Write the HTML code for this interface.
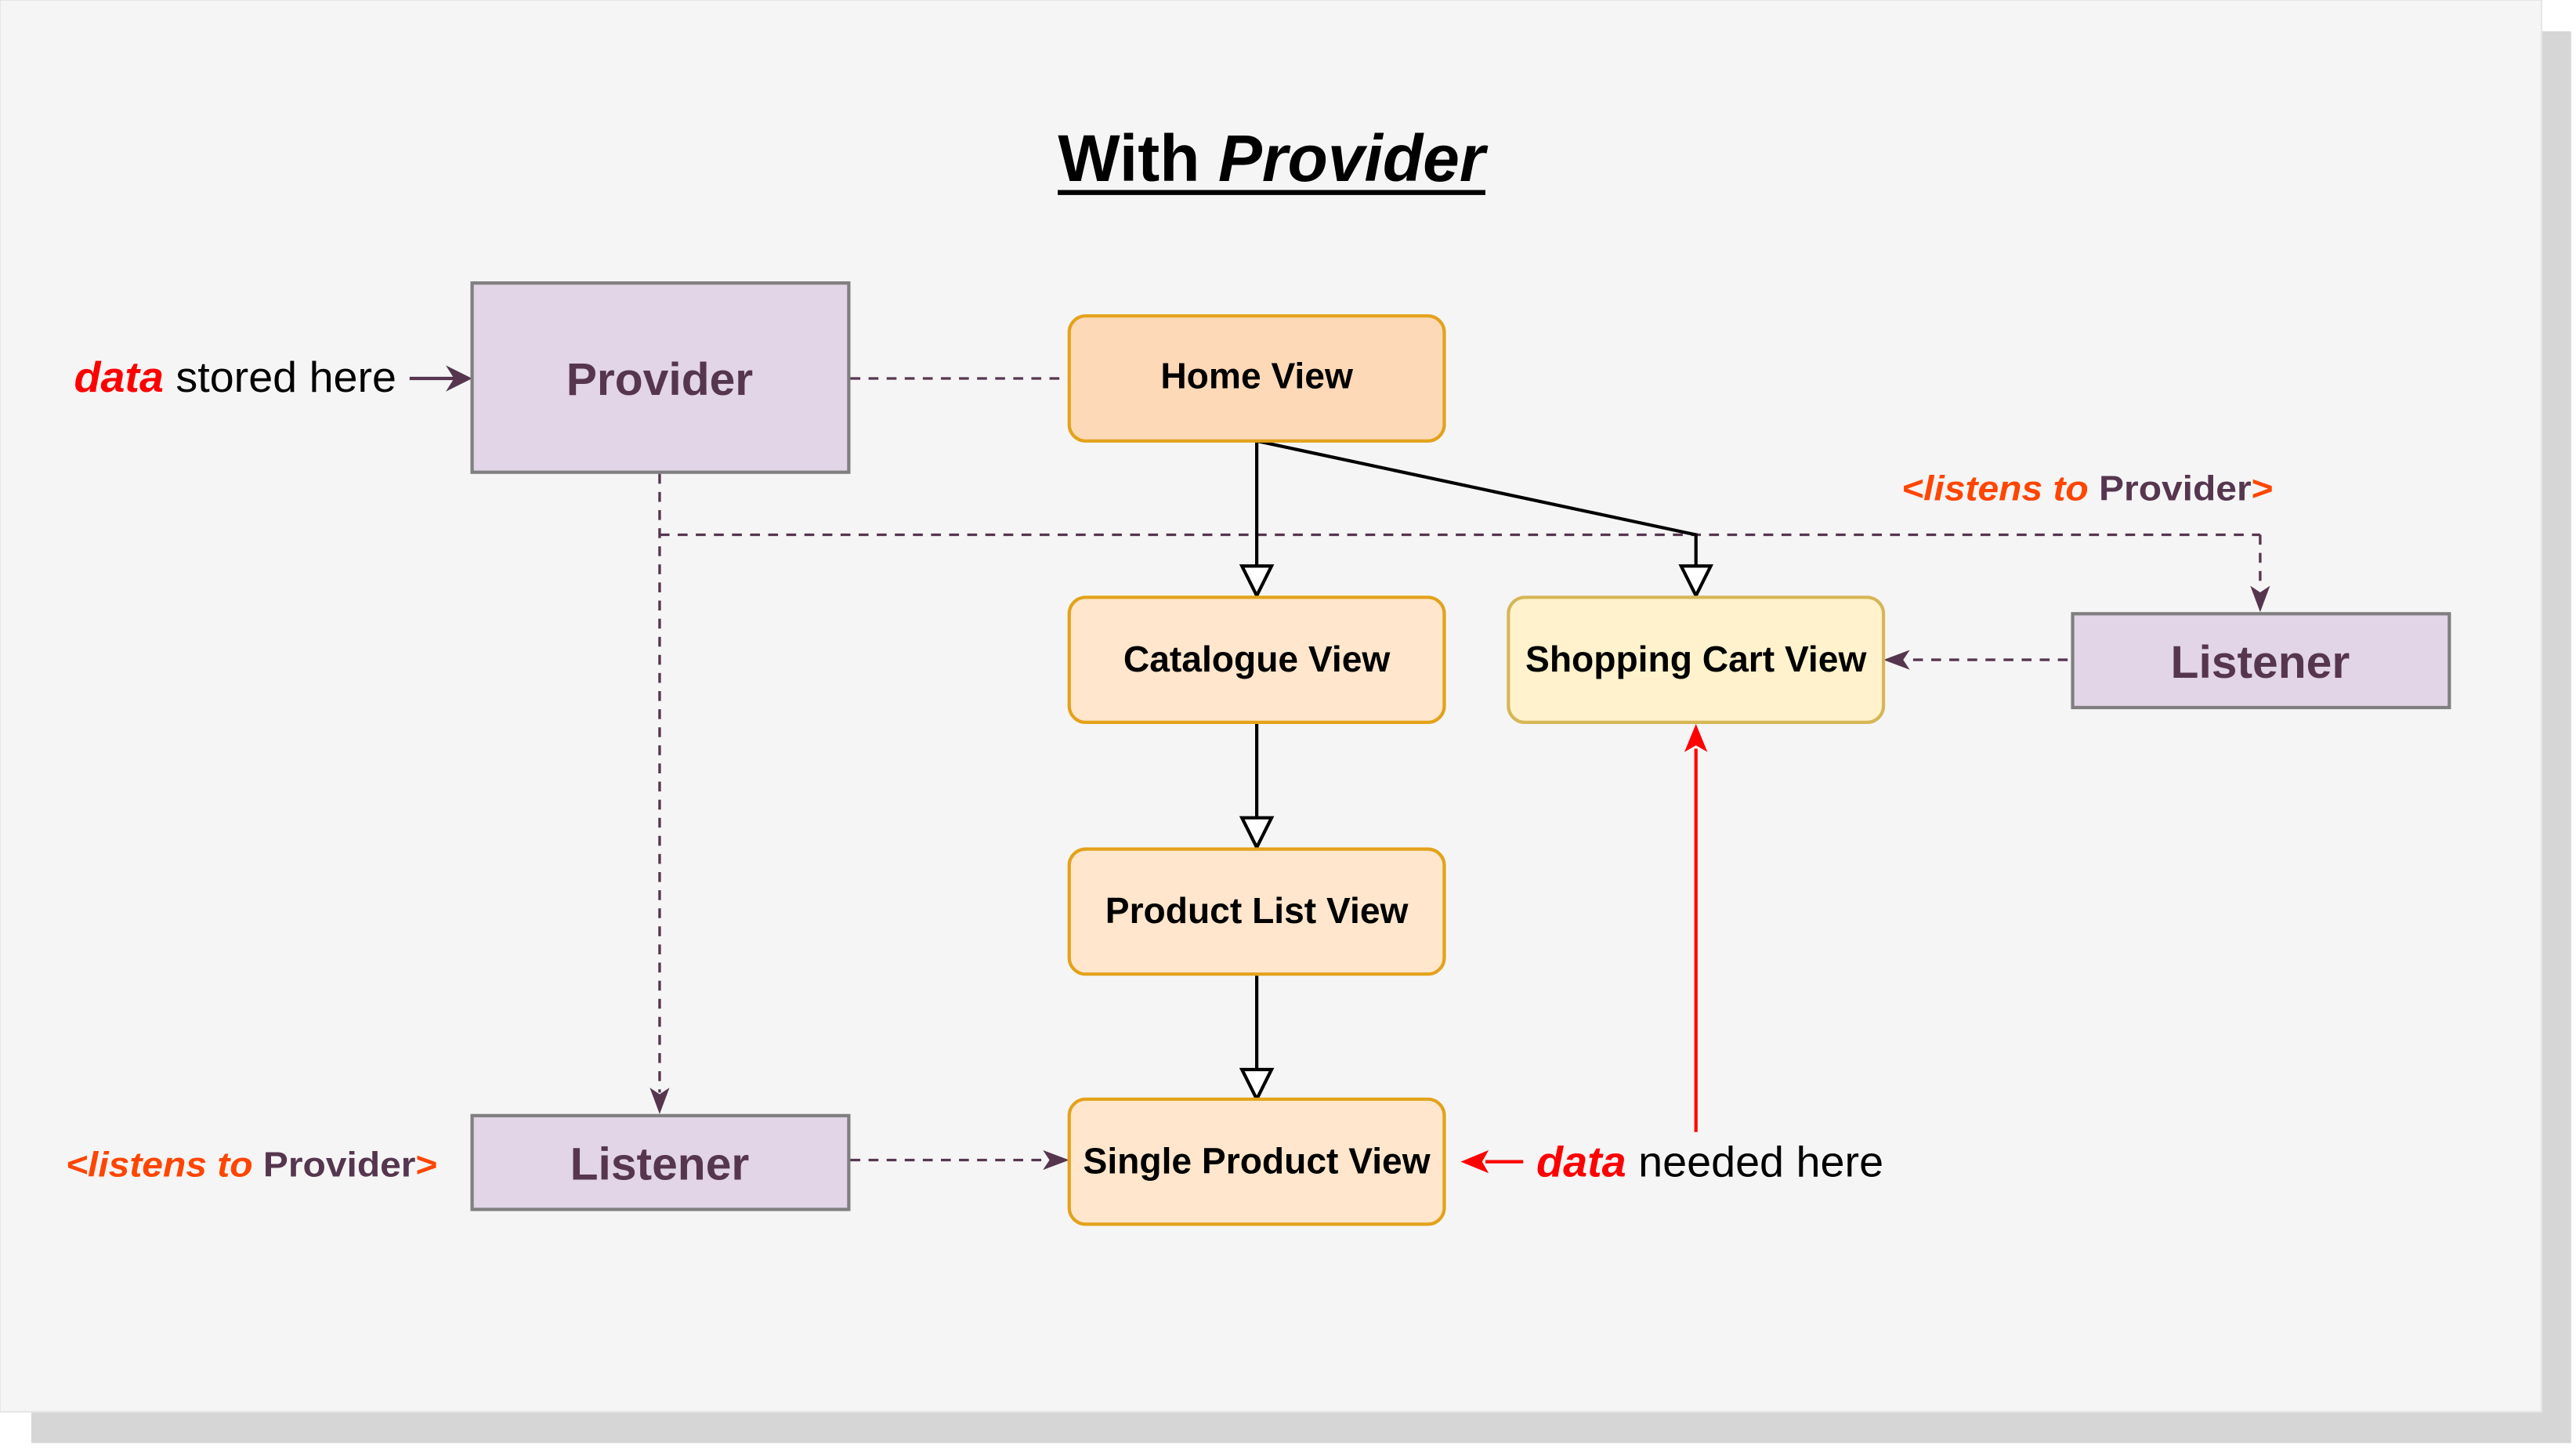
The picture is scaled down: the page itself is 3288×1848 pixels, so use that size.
<!DOCTYPE html>
<html><head><meta charset="utf-8"><style>
html,body{margin:0;padding:0;background:#fff;}
svg{display:block;}
text{font-family:"Liberation Sans",Arial,sans-serif;}
</style></head><body>
<svg width="3288" height="1848" viewBox="0 0 1566 880" preserveAspectRatio="none" xmlns="http://www.w3.org/2000/svg">
<rect x="19" y="19" width="1544" height="858" fill="#d6d6d6"/>
<rect x="0" y="0" width="1545" height="858" fill="#f5f5f5" stroke="#e6e6e6" stroke-width="1"/>

<!-- title -->
<text x="773" y="110" text-anchor="middle" font-size="40" font-weight="bold" fill="#000">With <tspan font-style="italic">Provider</tspan></text>
<line x1="643" y1="117" x2="903" y2="117" stroke="#000" stroke-width="3"/>

<!-- dashed connectors -->
<g stroke="#56364f" stroke-width="1.6" stroke-dasharray="6,5" fill="none">
<line x1="517" y1="230" x2="649" y2="230"/>
<line x1="401" y1="288" x2="401" y2="664"/>
<line x1="401" y1="325" x2="1374" y2="325"/>
<line x1="1374" y1="325" x2="1374" y2="358"/>
<line x1="1257" y1="401" x2="1158" y2="401"/>
<line x1="517" y1="705" x2="636" y2="705"/>
</g>
<g fill="#56364f">
<path d="M401,677 L395,661 L401,665 L407,661Z"/>
<path d="M1374,372 L1368,356 L1374,360 L1380,356Z"/>
<path d="M1145,401 L1161,395 L1157,401 L1161,407Z"/>
<path d="M650,705 L634,699 L638,705 L634,711Z"/>
<path d="M287,230 L271,222 L276,230 L271,238Z"/>
</g>
<line x1="249" y1="230" x2="277" y2="230" stroke="#56364f" stroke-width="2"/>

<!-- solid black connectors -->
<g stroke="#000" stroke-width="2" fill="none">
<line x1="764" y1="268" x2="764" y2="344"/>
<polyline points="764,268 1031,325 1031,344"/>
<line x1="764" y1="440" x2="764" y2="497"/>
<line x1="764" y1="593" x2="764" y2="650"/>
</g>
<g stroke="#000" stroke-width="2" fill="#fff">
<path d="M755,344 L773,344 L764,362Z"/>
<path d="M1022,344 L1040,344 L1031,362Z"/>
<path d="M755,497 L773,497 L764,515Z"/>
<path d="M755,650 L773,650 L764,668Z"/>
</g>

<!-- red arrows -->
<line x1="1031" y1="688" x2="1031" y2="455" stroke="#ff0000" stroke-width="2"/>
<path d="M1031,440 L1024,457 L1031,453 L1038,457Z" fill="#ff0000"/>
<line x1="926" y1="706" x2="903" y2="706" stroke="#ff0000" stroke-width="2"/>
<path d="M888,706 L905,699 L901,706 L905,713Z" fill="#ff0000"/>

<!-- purple boxes -->
<g fill="#e1d5e7" stroke="#7f7f7f" stroke-width="2">
<rect x="287" y="172" width="229" height="115"/>
<rect x="1260" y="373" width="229" height="57"/>
<rect x="287" y="678" width="229" height="57"/>
</g>
<g fill="#56364f" font-size="28" font-weight="bold" text-anchor="middle">
<text x="401" y="240">Provider</text>
<text x="1374" y="412">Listener</text>
<text x="401" y="717">Listener</text>
</g>

<!-- orange boxes -->
<rect x="650" y="192" width="228" height="76" rx="10" fill="#fdd9b7" stroke="#e3a21a" stroke-width="2"/>
<rect x="650" y="363" width="228" height="76" rx="10" fill="#ffe6cc" stroke="#e3a21a" stroke-width="2"/>
<rect x="917" y="363" width="228" height="76" rx="10" fill="#fff2cc" stroke="#d6b656" stroke-width="2"/>
<rect x="650" y="516" width="228" height="76" rx="10" fill="#ffe6cc" stroke="#e3a21a" stroke-width="2"/>
<rect x="650" y="668" width="228" height="76" rx="10" fill="#ffe6cc" stroke="#e3a21a" stroke-width="2"/>
<g fill="#000" font-size="22" font-weight="bold" text-anchor="middle">
<text x="764" y="236">Home View</text>
<text x="764" y="408">Catalogue View</text>
<text x="1031" y="408">Shopping Cart View</text>
<text x="764" y="561">Product List View</text>
<text x="764" y="713">Single Product View</text>
</g>

<!-- labels -->
<text x="45" y="238" font-size="26" fill="#000" textLength="196" lengthAdjust="spacingAndGlyphs"><tspan fill="#ff0000" font-weight="bold" font-style="italic">data</tspan> stored here</text>
<text x="934" y="715" font-size="26" fill="#000" textLength="211" lengthAdjust="spacingAndGlyphs"><tspan fill="#ff0000" font-weight="bold" font-style="italic">data</tspan> needed here</text>
<text x="1156" y="304" font-size="21" font-weight="bold" textLength="226" lengthAdjust="spacingAndGlyphs"><tspan fill="#ff4500" font-style="italic">&lt;listens to</tspan><tspan fill="#56364f"> Provider</tspan><tspan fill="#ff4500">&gt;</tspan></text>
<text x="40" y="715" font-size="21" font-weight="bold" textLength="226" lengthAdjust="spacingAndGlyphs"><tspan fill="#ff4500" font-style="italic">&lt;listens to</tspan><tspan fill="#56364f"> Provider</tspan><tspan fill="#ff4500">&gt;</tspan></text>
</svg>
</body></html>
